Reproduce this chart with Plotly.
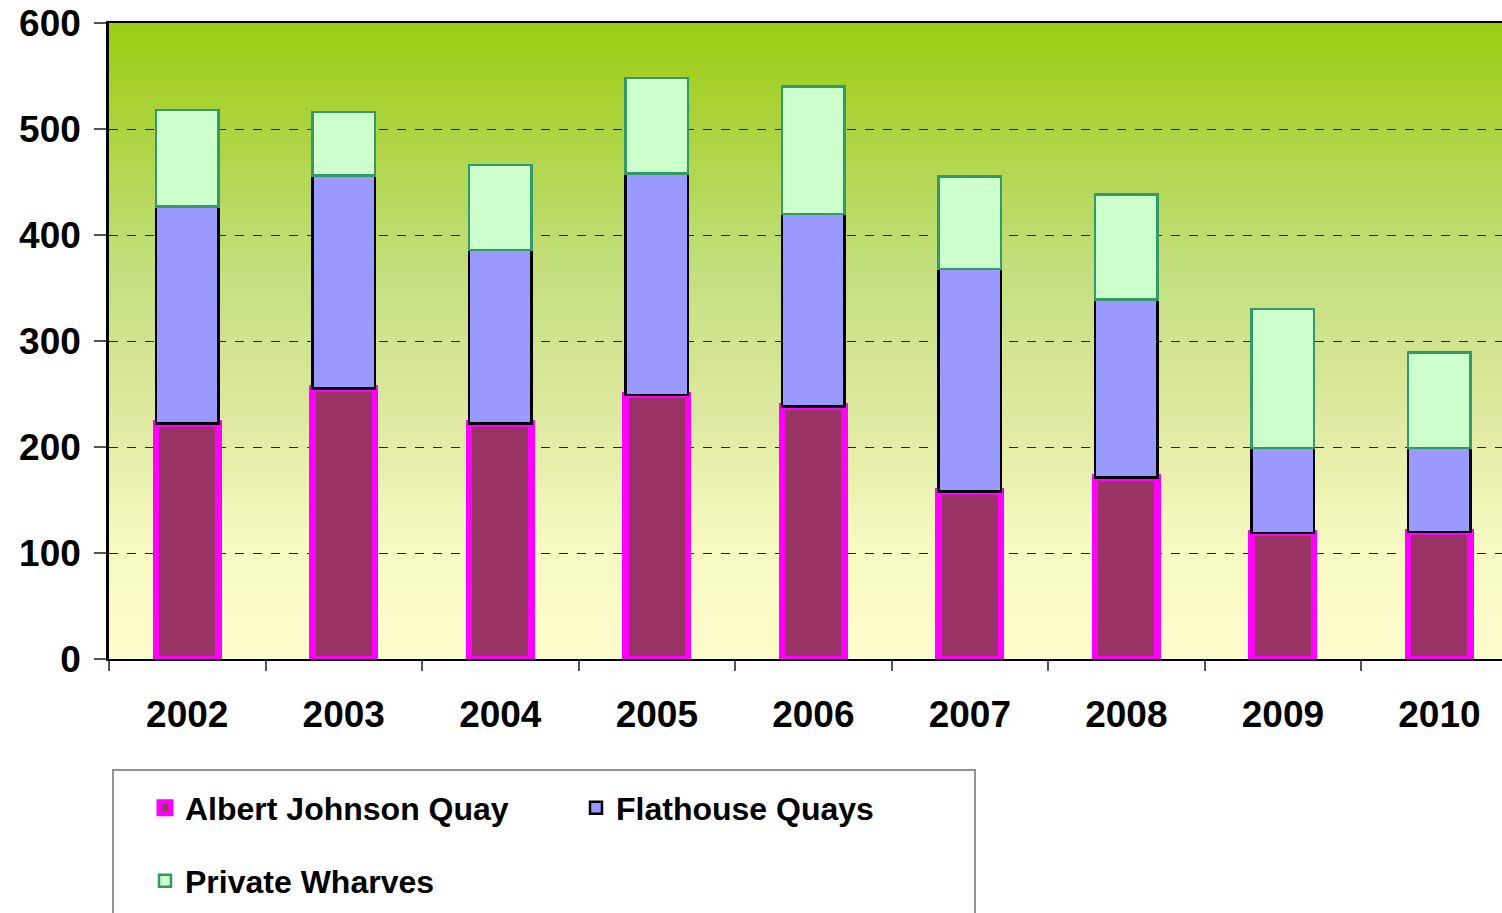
import plotly.graph_objects as go

years = ["2002", "2003", "2004", "2005", "2006", "2007", "2008", "2009", "2010"]
albert_johnson = [222, 255, 222, 249, 238, 158, 171, 119, 120]
flathouse = [205, 201, 164, 209, 182, 210, 168, 80, 79]
private_wharves = [91, 60, 80, 90, 120, 87, 99, 131, 90]

FONT = "Liberation Sans, Arial, sans-serif"
W, H = 1502, 913
ML, MR, MT, MB = 109, 0, 23, 254
PW_ = W - ML - MR
PH = H - MT - MB

fig = go.Figure()
fig.add_trace(go.Bar(x=years, y=albert_johnson, name="Albert Johnson Quay", width=0.40,
                     marker=dict(color="#993366", line=dict(color="#FF00FF", width=6.5)),
                     legend="legend"))
fig.add_trace(go.Bar(x=years, y=flathouse, name="Flathouse Quays", width=0.40,
                     marker=dict(color="#9999FF", line=dict(color="#000000", width=2.5)),
                     legend="legend"))
fig.add_trace(go.Bar(x=years, y=private_wharves, name="Private Wharves", width=0.40,
                     marker=dict(color="#CCFFCC", line=dict(color="#339966", width=2.5)),
                     legend="legend2"))

# background gradient (top green -> bottom pale yellow)
stops = [(0.0, (155, 204, 18)), (0.4, (197, 223, 128)), (0.62, (222, 233, 160)),
         (0.8, (245, 248, 190)), (1.0, (253, 253, 204))]

def col(t):
    for (t0, c0), (t1, c1) in zip(stops[:-1], stops[1:]):
        if t0 <= t <= t1:
            f = (t - t0) / (t1 - t0)
            return "rgb(%d,%d,%d)" % tuple(round(a + (b - a) * f) for a, b in zip(c0, c1))
    return "rgb(%d,%d,%d)" % stops[-1][1]

shapes = []
n = 160
for i in range(n):
    t = i / (n - 1)
    y1 = 1 - i / n
    y0 = 1 - (i + 1) / n - 0.002
    shapes.append(dict(type="rect", xref="paper", yref="paper", x0=0, x1=1,
                       y0=max(y0, 0), y1=y1, fillcolor=col(t), line=dict(width=0),
                       layer="below"))

# legend frame
shapes.append(dict(type="rect", xref="paper", yref="paper",
                   x0=(113 - ML) / PW_, x1=(975 - ML) / PW_,
                   y0=(659 - 940) / PH, y1=(659 - 770) / PH,
                   line=dict(color="#707070", width=1.5), fillcolor="rgba(0,0,0,0)"))

fig.update_layout(
    width=W, height=H,
    margin=dict(l=ML, r=MR, t=MT, b=MB),
    barmode="stack",
    paper_bgcolor="white",
    plot_bgcolor="rgba(0,0,0,0)",
    font=dict(family=FONT, color="black"),
    shapes=shapes,
    showlegend=True,
    legend=dict(orientation="h", x=(145 - ML) / PW_, xanchor="left",
                y=(659 - 808) / PH, yanchor="middle", traceorder="normal",
                font=dict(size=32, family=FONT, color="black", weight="bold"),
                entrywidth=386, entrywidthmode="pixels", bgcolor="rgba(0,0,0,0)"),
    legend2=dict(orientation="h", x=(145 - ML) / PW_, xanchor="left",
                 y=(659 - 881) / PH, yanchor="middle", traceorder="normal",
                 font=dict(size=32, family=FONT, color="black", weight="bold"),
                 bgcolor="rgba(0,0,0,0)"),
)

fig.update_xaxes(type="category", range=[-0.5, 8.4], tickson="boundaries",
                 ticks="outside", ticklen=10, tickcolor="#555555", tickwidth=1.5,
                 showline=True, linecolor="black", linewidth=2, mirror=True,
                 showgrid=False,
                 tickfont=dict(size=37, family=FONT, color="black", weight="bold"),
                 ticklabelstandoff=22)
fig.update_yaxes(range=[0, 600], tickmode="array", tickvals=[0, 100, 200, 300, 400, 500, 600],
                 ticks="outside", ticklen=12, tickcolor="#555555", tickwidth=1.5,
                 showline=True, linecolor="black", linewidth=2.5,
                 showgrid=True, gridcolor="#222222", gridwidth=1, griddash="dash",
                 zeroline=False,
                 tickfont=dict(size=37, family=FONT, color="black", weight="bold"),
                 ticklabelstandoff=6)

fig.write_html("out.html", config={"displayModeBar": False},
               post_script="document.body.style.margin='0';document.body.style.overflow='hidden';")
